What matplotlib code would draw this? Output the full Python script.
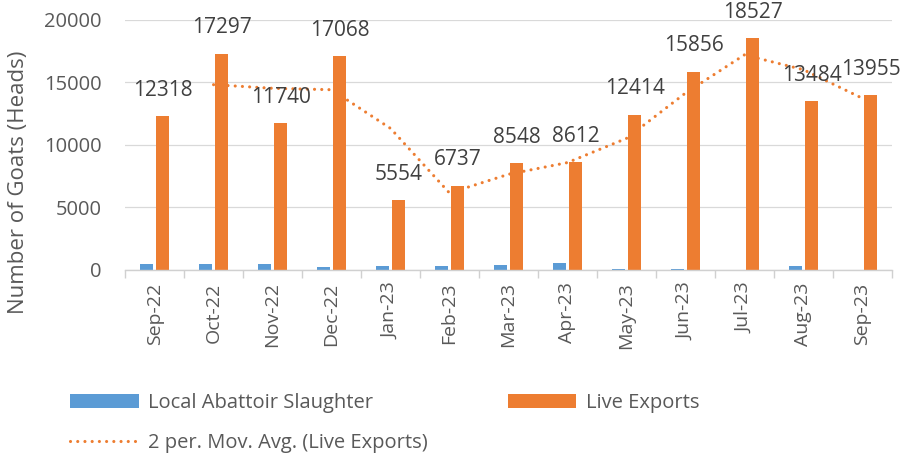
import matplotlib.pyplot as plt
import numpy as np
import pandas as pd

months = ['Sep-22', 'Oct-22', 'Nov-22', 'Dec-22', 'Jan-23', 'Feb-23', 'Mar-23',
          'Apr-23', 'May-23', 'Jun-23', 'Jul-23', 'Aug-23', 'Sep-23']
slaughter = [500, 480, 480, 200, 300, 300, 420, 560, 80, 100, 0, 350, 0]
live_exports = [12318, 17297, 11740, 17068, 5554, 6737, 8548,
                8612, 12414, 15856, 18527, 13484, 13955]

blue = '#5B9BD5'
orange = '#ED7D31'
grey = '#595959'

plt.rcParams['font.family'] = ['Open Sans', 'DejaVu Sans']

fig = plt.figure(figsize=(9, 4.59), dpi=100)
ax = fig.add_axes([0.139, 0.412, 0.852, 0.545])

x = np.arange(len(months))
w = 0.22
b1 = ax.bar(x - 0.14, slaughter, w, color=blue, label='Local Abattoir Slaughter', zorder=2)
b2 = ax.bar(x + 0.14, live_exports, w, color=orange, label='Live Exports', zorder=2)

ma = pd.Series(live_exports).rolling(2).mean()
ln, = ax.plot(x, ma, color=orange, linestyle=(0, (0.01, 2.3)), linewidth=2.25,
              dash_capstyle='round', label='2 per. Mov. Avg. (Live Exports)', zorder=3)

for i, v in enumerate(live_exports):
    ax.annotate(str(v), (x[i] + 0.14, v), xytext=(0, 18.5),
                textcoords='offset points', ha='center', va='center',
                fontsize=15, color='#404040', annotation_clip=False, zorder=4)

ax.set_xlim(-0.5, len(months) - 0.5)
ax.set_ylim(0, 20000)
ax.set_yticks([0, 5000, 10000, 15000, 20000])
ax.yaxis.grid(True, color='#D9D9D9', linewidth=0.9)
ax.set_axisbelow(True)
ax.set_xticks(x)
ax.set_xticklabels(months, rotation=90)
ax.set_xticks(np.arange(-0.5, len(months)), minor=True)
ax.tick_params(axis='x', which='major', length=0, pad=9, labelsize=14, labelcolor=grey)
ax.tick_params(axis='x', which='minor', length=6, color='#D0D0D0', width=1)
ax.tick_params(axis='y', length=0, labelsize=14.5, labelcolor=grey, pad=17)

for s in ['top', 'right', 'left']:
    ax.spines[s].set_visible(False)
ax.spines['bottom'].set_color('#D0D0D0')
ax.spines['bottom'].set_linewidth(1)

ax.set_ylabel('Number of Goats (Heads)', fontsize=16, color=grey)
ax.yaxis.set_label_coords(-0.125, 0.35)

fig.legend(handles=[b1, ln, b2], loc='upper left', bbox_to_anchor=(0.069, 0.161),
           borderaxespad=0, ncol=2, frameon=False,
           fontsize=14.5, labelcolor=grey, handlelength=3.4, handleheight=0.7,
           columnspacing=4.0, handletextpad=0.45, labelspacing=1.0)

fig.savefig('out.png', dpi=100)
